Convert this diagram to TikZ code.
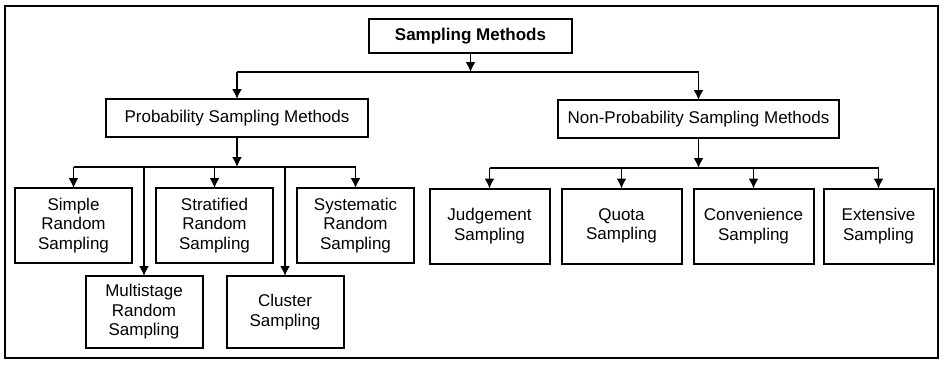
\documentclass[tikz,border=0pt]{standalone}
\usepackage{fontspec}
\setmainfont{Liberation Sans}
\usepackage{tikz}
\usetikzlibrary{positioning,arrows.meta}

\begin{document}
\begin{tikzpicture}[>={Latex[length=10pt,width=10pt]},x=1pt,y=1pt,node distance=12pt and 24pt]
\tikzstyle{B}=[draw,line width=2pt,outer sep=0pt,align=center,inner sep=2pt,font=\fontsize{17}{19.5}\selectfont]
\tikzstyle{T}=[B,minimum width=203pt,minimum height=34pt,font=\fontsize{17}{19.5}\selectfont\bfseries]
\tikzstyle{M}=[B,minimum width=262pt,minimum height=38pt]
\tikzstyle{L}=[B,minimum width=117pt,minimum height=75pt]
\tikzstyle{W}=[line width=1.7pt]
\useasboundingbox (0,0) rectangle (944,-367);
\draw[line width=1.8pt] (5,-6) rectangle (938,-358);
% top levels
\node[T] (sm) at (470.5,-36) {Sampling Methods};
\node[M] (pm) at (237,-118) {Probability Sampling Methods};
\node[M,minimum width=281pt] (nm) at (698.5,-119) {Non-Probability Sampling Methods};
% probability methods
\node[L] (sr) at (73.5,-225.5) {Simple\\Random\\Sampling};
\node[L,right=of sr] (st) {Stratified\\Random\\Sampling};
\node[L,right=of st] (sy) {Systematic\\Random\\Sampling};
\node[L,minimum height=72pt] (ms) at (144,-312) {Multistage\\Random\\Sampling};
\node[L,minimum height=72pt,right=of ms] (cl) {Cluster\\Sampling};
% non-probability methods
\node[L,minimum width=120pt] (js) at (489.5,-226) {Judgement\\Sampling};
\node[L,minimum width=120pt,right=12pt of js] (qs) {Quota\\Sampling};
\node[L,minimum width=120pt,right=12pt of qs] (cs) {Convenience\\Sampling};
\node[L,minimum width=110pt,right=10pt of cs] (es) {Extensive\\Sampling};
% connectors
\coordinate[below=19pt of sm] (tb);
\coordinate[below=30pt of pm] (pb);
\coordinate[below=30pt of nm] (nb);
\draw[->,W] (sm) -- (tb);
\draw[W] (pm.north |- tb) -- (nm.north |- tb);
\draw[->,W] (pm.north |- tb) -- (pm); \draw[->,W] (nm.north |- tb) -- (nm);
\draw[->,W] (pm) -- (pb);
\draw[W] (sr.north |- pb) -- (sy.north |- pb);
\foreach \n in {sr,st,sy,ms,cl} \draw[->,W] (\n.north |- pb) -- (\n.north);
\draw[->,W] (nm) -- (nb);
\draw[W] (js.north |- nb) -- (es.north |- nb);
\foreach \n in {js,qs,cs,es} \draw[->,W] (\n.north |- nb) -- (\n.north);
\end{tikzpicture}
\end{document}
